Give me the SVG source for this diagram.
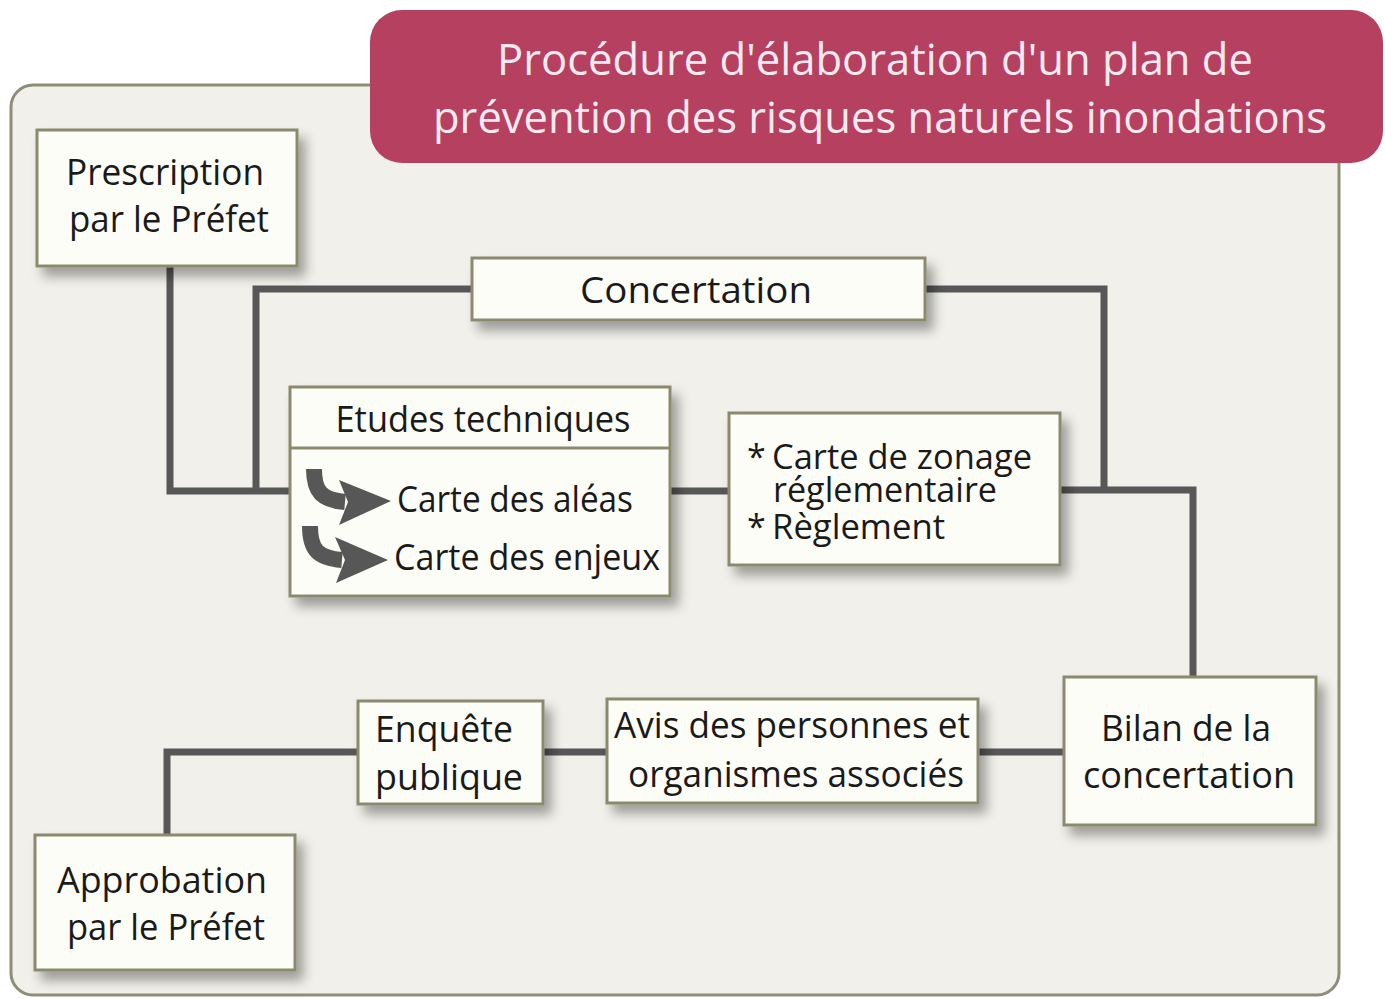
<svg xmlns="http://www.w3.org/2000/svg" width="1385" height="999" viewBox="0 0 1385 999">
<defs>
<filter id="sh" x="-20%" y="-20%" width="150%" height="160%">
<feDropShadow dx="7" dy="9" stdDeviation="6" flood-color="#000" flood-opacity="0.35"/>
</filter>
<style>
.box{fill:#fdfdf7;stroke:#8b8a6e;stroke-width:3;filter:url(#sh)}
.conn{fill:none;stroke:#575757;stroke-width:7;stroke-linejoin:miter;stroke-linecap:butt}
.t{font-family:"Open Sans","Noto Sans","Liberation Sans",sans-serif;font-size:36px;fill:#1a1a1a}
.z{font-size:34px}
.c{text-anchor:middle}
.title{font-family:"Open Sans","Noto Sans","Liberation Sans",sans-serif;font-size:44px;fill:#f8eaf0;text-anchor:middle}
.arr{fill:#575757}
.arrs{fill:none;stroke:#575757;stroke-width:16}
</style>
</defs>
<rect width="1385" height="999" fill="#ffffff"/>
<rect x="11" y="85" width="1328" height="910" rx="22" fill="#f1f0ea" stroke="#8e8d76" stroke-width="3"/>
<g id="title">
<rect x="370" y="10" width="1013" height="153" rx="32" fill="#b6405f"/>
<text class="title" x="875" y="75" textLength="756" lengthAdjust="spacingAndGlyphs">Procédure d'élaboration d'un plan de</text>
<text class="title" x="880" y="133" textLength="894" lengthAdjust="spacingAndGlyphs">prévention des risques naturels inondations</text>
</g>
<g id="connectors">
<polyline class="conn" points="170,267 170,491 290,491"/>
<polyline class="conn" points="256,491 256,289 472,289"/>
<polyline class="conn" points="925,289 1104,289 1104,490"/>
<polyline class="conn" points="1060,490 1193,490 1193,677"/>
<line class="conn" x1="670" y1="491" x2="729" y2="491"/>
<polyline class="conn" points="167,835 167,752 358,752"/>
<line class="conn" x1="543" y1="752" x2="607" y2="752"/>
<line class="conn" x1="978" y1="752" x2="1064" y2="752"/>
</g>
<g id="prescription">
<rect class="box" x="37" y="130" width="260" height="136"/>
<text class="t c" x="165" y="185" textLength="198" lengthAdjust="spacingAndGlyphs">Prescription</text>
<text class="t c" x="169" y="232" textLength="200" lengthAdjust="spacingAndGlyphs">par le Préfet</text>
</g>
<g id="concertation">
<rect class="box" x="472" y="258" width="453" height="62"/>
<text class="t c" x="696" y="303" textLength="232" lengthAdjust="spacingAndGlyphs">Concertation</text>
</g>
<g id="etudes">
<rect class="box" x="290" y="387" width="380" height="209"/>
<line x1="290" y1="448" x2="670" y2="448" stroke="#8b8a6e" stroke-width="3"/>
<text class="t c" x="483" y="432" textLength="295" lengthAdjust="spacingAndGlyphs">Etudes techniques</text>
<path class="arrs" d="M314,469 C314,492 322,500 345,502"/>
<polygon class="arr" points="339,480 391,501 339,525 348,502"/>
<path class="arrs" d="M310,526 C310,550 318,558 342,560"/>
<polygon class="arr" points="335,537 388,560 336,583 345,560"/>
<text class="t" x="397" y="512" textLength="236" lengthAdjust="spacingAndGlyphs">Carte des aléas</text>
<text class="t" x="394" y="570" textLength="266" lengthAdjust="spacingAndGlyphs">Carte des enjeux</text>
</g>
<g id="zonage">
<rect class="box" x="729" y="413" width="331" height="152"/>
<text class="t z" x="747" y="469">*</text>
<text class="t z" x="772" y="469" textLength="260" lengthAdjust="spacingAndGlyphs">Carte de zonage</text>
<text class="t z" x="773" y="502" textLength="224" lengthAdjust="spacingAndGlyphs">réglementaire</text>
<text class="t z" x="747" y="539">*</text>
<text class="t z" x="772" y="539" textLength="173" lengthAdjust="spacingAndGlyphs">Règlement</text>
</g>
<g id="bilan">
<rect class="box" x="1064" y="677" width="252" height="148"/>
<text class="t c" x="1186" y="741" textLength="170" lengthAdjust="spacingAndGlyphs">Bilan de la</text>
<text class="t c" x="1189" y="788" textLength="212" lengthAdjust="spacingAndGlyphs">concertation</text>
</g>
<g id="avis">
<rect class="box" x="607" y="699" width="371" height="104"/>
<text class="t c" x="792" y="738" textLength="356" lengthAdjust="spacingAndGlyphs">Avis des personnes et</text>
<text class="t c" x="796" y="787" textLength="336" lengthAdjust="spacingAndGlyphs">organismes associés</text>
</g>
<g id="enquete">
<rect class="box" x="358" y="701" width="185" height="103"/>
<text class="t c" x="444" y="742" textLength="138" lengthAdjust="spacingAndGlyphs">Enquête</text>
<text class="t c" x="449" y="790" textLength="148" lengthAdjust="spacingAndGlyphs">publique</text>
</g>
<g id="approbation">
<rect class="box" x="35" y="835" width="260" height="135"/>
<text class="t c" x="162" y="893" textLength="210" lengthAdjust="spacingAndGlyphs">Approbation</text>
<text class="t c" x="166" y="940" textLength="198" lengthAdjust="spacingAndGlyphs">par le Préfet</text>
</g>
</svg>
